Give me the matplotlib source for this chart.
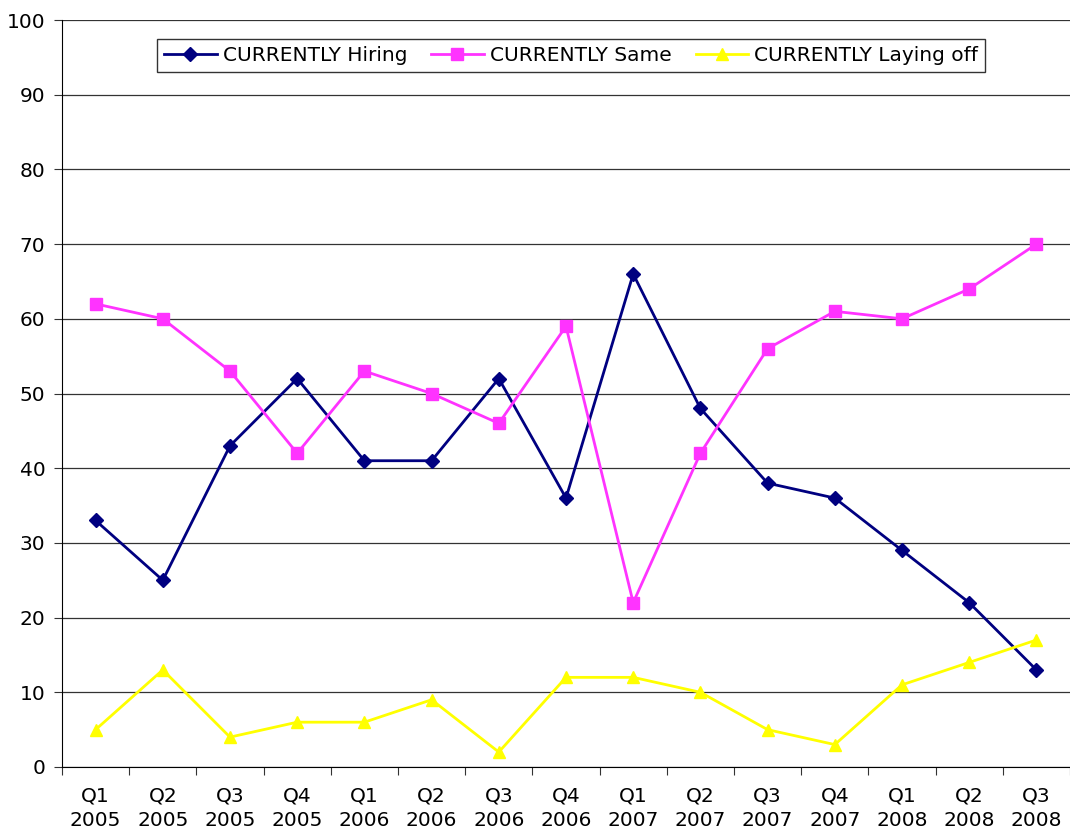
import numpy as np
import matplotlib.pyplot as plt

quarters = ["Q1\n2005", "Q2\n2005", "Q3\n2005", "Q4\n2005",
            "Q1\n2006", "Q2\n2006", "Q3\n2006", "Q4\n2006",
            "Q1\n2007", "Q2\n2007", "Q3\n2007", "Q4\n2007",
            "Q1\n2008", "Q2\n2008", "Q3\n2008"]
hiring = [33, 25, 43, 52, 41, 41, 52, 36, 66, 48, 38, 36, 29, 22, 13]
same = [62, 60, 53, 42, 53, 50, 46, 59, 22, 42, 56, 61, 60, 64, 70]
laying_off = [5, 13, 4, 6, 6, 9, 2, 12, 12, 10, 5, 3, 11, 14, 17]

fig = plt.figure(figsize=(10.7, 8.36), dpi=100)
ax = fig.add_axes([62/1070, 1 - 767/836, 1 - 62/1070, (767 - 20)/836])

x = np.arange(len(quarters))
ax.plot(x, hiring, color="#000080", marker="D", markersize=7, lw=2,
        label="CURRENTLY Hiring")
ax.plot(x, same, color="#FF33FF", marker="s", markersize=8, lw=2,
        label="CURRENTLY Same")
ax.plot(x, laying_off, color="#FFFF00", marker="^", markersize=9, lw=2,
        label="CURRENTLY Laying off")

ax.set_xlim(-0.5, len(quarters) - 0.5)
ax.set_ylim(0, 100)
ax.set_yticks(range(0, 101, 10))
ax.yaxis.grid(True, color="#333333", lw=0.9)
ax.set_axisbelow(True)

ax.set_xticks(np.arange(-0.5, len(quarters), 1.0))
ax.set_xticklabels([])
ax.set_xticks(x, minor=True)
ax.set_xticklabels(quarters, minor=True, fontsize=14.5, linespacing=1.35)
ax.tick_params(axis="x", which="minor", length=0, pad=14)
ax.tick_params(axis="x", which="major", length=6, color="#333333")
ax.tick_params(axis="y", length=6, labelsize=14.5, pad=6, color="#333333")

for s in ["top", "right"]:
    ax.spines[s].set_visible(False)
ax.spines["left"].set_color("black")
ax.spines["bottom"].set_color("black")

leg = ax.legend(loc="upper center", ncol=3, fontsize=14.5, frameon=True,
                fancybox=False, edgecolor="black",
                bbox_to_anchor=(0.505, 0.988),
                handlelength=2.6, columnspacing=1.2, handletextpad=0.3,
                borderpad=0.35)
leg.get_frame().set_linewidth(1.0)

fig.savefig("out.png", dpi=100)
